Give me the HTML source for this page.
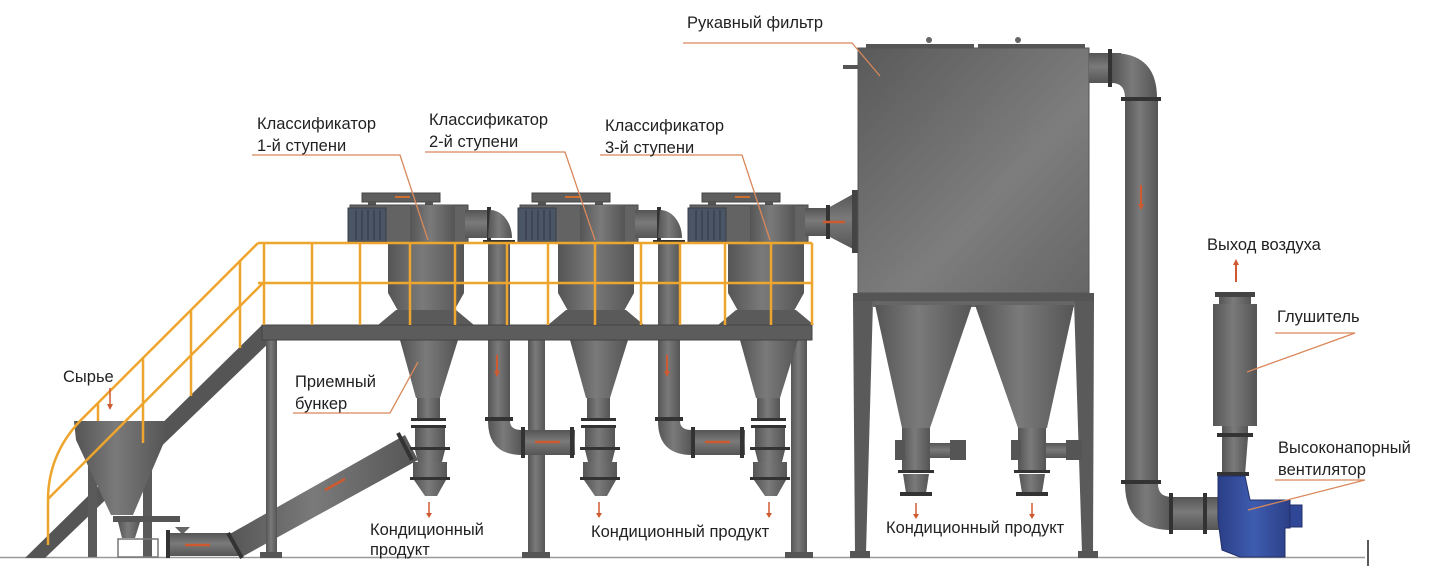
<!DOCTYPE html>
<html><head><meta charset="utf-8"><style>
html,body{margin:0;padding:0;background:#fff;}
svg{display:block;}
text{font-family:"Liberation Sans",sans-serif;font-size:16.5px;fill:#222;}
</style></head><body>
<svg width="1439" height="570" viewBox="0 0 1439 570" xmlns="http://www.w3.org/2000/svg">
<defs>
<linearGradient id="g" x1="0" x2="1" y1="0" y2="0">
<stop offset="0" stop-color="#555"/><stop offset="0.45" stop-color="#7a7a7a"/><stop offset="1" stop-color="#555"/></linearGradient>
<linearGradient id="gv" x1="0" x2="0" y1="0" y2="1">
<stop offset="0" stop-color="#555"/><stop offset="0.45" stop-color="#7a7a7a"/><stop offset="1" stop-color="#555"/></linearGradient>
<linearGradient id="box" x1="0" x2="1" y1="0" y2="1">
<stop offset="0" stop-color="#5a5a5a"/><stop offset="0.6" stop-color="#7d7d7d"/><stop offset="1" stop-color="#666"/></linearGradient>
<linearGradient id="blue" x1="0" x2="1"><stop offset="0" stop-color="#2b3f86"/><stop offset="0.5" stop-color="#3e5cb0"/><stop offset="1" stop-color="#2b3f86"/></linearGradient>
<g id="cyc">
 <rect x="362" y="193" width="78" height="9" fill="#5e5e5e" stroke="#444"/>
 <line x1="395" y1="197" x2="410" y2="197" stroke="#d07030" stroke-width="2"/>
 <rect x="368" y="202" width="8" height="5" fill="#555"/><rect x="425" y="202" width="8" height="5" fill="#555"/>
 <rect x="350" y="205" width="118" height="38" fill="#636363" stroke="#484848"/>
 <rect x="410" y="205" width="45" height="40" fill="url(#g)"/>
 <rect x="348" y="208" width="38" height="34" fill="#4a5566" stroke="#3a3f48"/>
 <g stroke="#3a4250" stroke-width="1.5"><line x1="356" y1="210" x2="356" y2="240"/><line x1="362" y1="210" x2="362" y2="240"/><line x1="368" y1="210" x2="368" y2="240"/><line x1="374" y1="210" x2="374" y2="240"/><line x1="380" y1="210" x2="380" y2="240"/></g>
 <rect x="388" y="243" width="76" height="50" fill="url(#g)"/>
 <polygon points="388,293 464,293 450,318 402,318" fill="url(#g)"/>
 <polygon points="378,325 474,325 456,310 396,310" fill="#5a5a5a"/>
 <polygon points="400,340 458,340 440,398 416,398" fill="url(#g)"/>
 <rect x="417" y="398" width="23" height="22" fill="url(#g)"/>
 <rect x="411" y="418" width="35" height="3" fill="#333"/><rect x="411" y="425" width="35" height="3" fill="#333"/>
 <rect x="415" y="428" width="30" height="20" fill="url(#g)"/>
 <rect x="410" y="447" width="40" height="3" fill="#333"/>
 <polygon points="415,450 445,450 442,462 418,462" fill="url(#g)"/>
 <rect x="413" y="462" width="34" height="16" fill="url(#g)"/>
 <rect x="410" y="477" width="40" height="3" fill="#333"/>
 <polygon points="414,480 446,480 437,496 425,496" fill="url(#g)"/>
 <line x1="429" y1="502" x2="429" y2="514" stroke="#d05a30" stroke-width="1.5"/>
 <polygon points="426,513 432,513 429,518" fill="#d05a30"/>
</g>
<g id="xfer">
 <rect x="465" y="210" width="25" height="28" fill="url(#gv)"/>
 <rect x="487" y="207" width="4" height="34" fill="#333"/>
 <path d="M490,210 A22,28 0 0 1 512,238 L488,238 Z" fill="url(#g)"/>
 <rect x="483" y="240" width="32" height="4" fill="#333"/>
 <rect x="488" y="244" width="22" height="174" fill="url(#g)"/>
 <line x1="497" y1="355" x2="497" y2="372" stroke="#d05a30" stroke-width="2"/>
 <polygon points="494,371 500,371 497,377" fill="#d05a30"/>
 <rect x="485" y="417" width="28" height="4" fill="#333"/>
 <path d="M488,421 L510,421 Q510,430 522,430 L522,455 Q488,455 488,421 Z" fill="url(#g)"/>
 <rect x="522" y="430" width="53" height="25" fill="url(#gv)"/>
 <rect x="521" y="427" width="4" height="31" fill="#333"/><rect x="570" y="427" width="4" height="31" fill="#333"/>
 <line x1="535" y1="442" x2="560" y2="442" stroke="#d05a30" stroke-width="2.5"/>
</g>
</defs>

<line x1="0" y1="557.5" x2="1365" y2="557.5" stroke="#999" stroke-width="1.5"/>
<line x1="1368" y1="540" x2="1368" y2="566" stroke="#222" stroke-width="1.5"/>

<polygon points="262,325 272,340 45,558 25,558" fill="#555"/>

<rect x="88" y="465" width="9" height="92" fill="#5a5a5a"/><rect x="143" y="465" width="9" height="92" fill="#5a5a5a"/>
<polygon points="74,421 167,421 165,440 76,440" fill="url(#g)"/>
<polygon points="76,440 165,440 133,515 111,515" fill="url(#g)"/>
<rect x="113" y="516" width="67" height="6" fill="#555"/>
<polygon points="118,522 140,522 135,538 122,538" fill="url(#g)"/>
<rect x="118" y="539" width="40" height="18" fill="none" stroke="#777" stroke-width="1.5"/>
<polygon points="168,533 240,533 240,556 168,556" fill="url(#gv)"/>
<rect x="166" y="530" width="4" height="28" fill="#333"/>
<polygon points="175,527 190,527 184,533 181,533" fill="#666"/>
<line x1="185" y1="545" x2="210" y2="545" stroke="#d05a30" stroke-width="2.5"/>
<polygon points="228,535 405,435 418,460 240,558" fill="url(#g)"/>
<line x1="228" y1="533" x2="242" y2="558" stroke="#333" stroke-width="4"/>
<line x1="398" y1="433" x2="412" y2="460" stroke="#333" stroke-width="4"/>
<line x1="325" y1="490" x2="345" y2="479" stroke="#d05a30" stroke-width="2.5"/>

<rect x="266" y="340" width="11" height="218" fill="url(#g)"/>
<rect x="528" y="340" width="17" height="218" fill="url(#g)"/>
<rect x="791" y="340" width="16" height="218" fill="url(#g)"/>
<rect x="260" y="552" width="22" height="6" fill="#555"/><rect x="522" y="552" width="28" height="6" fill="#555"/><rect x="785" y="552" width="28" height="6" fill="#555"/>

<use href="#cyc"/>
<use href="#cyc" x="170"/>
<use href="#cyc" x="340"/>
<use href="#xfer"/>
<use href="#xfer" x="170"/>
<rect x="805" y="208" width="25" height="28" fill="url(#gv)"/>
<polygon points="828,208 855,193 855,250 828,236" fill="url(#gv)"/>
<rect x="826" y="205" width="4" height="34" fill="#333"/>
<rect x="852" y="190" width="6" height="63" fill="#444"/>
<line x1="823" y1="222" x2="845" y2="222" stroke="#d05a30" stroke-width="2.5"/>

<rect x="262" y="325" width="550" height="15" fill="#5c5c5c" stroke="#444"/>

<g stroke="#eea52e" stroke-width="2.5" fill="none">
 <line x1="258" y1="243" x2="812" y2="243"/>
 <line x1="258" y1="283" x2="812" y2="283"/>
 <path d="M258,243 L80,421 Q48,455 48,500 L48,545"/>
 <path d="M263,283 L48,499"/>
 <line x1="264" y1="243" x2="264" y2="325"/>
 <line x1="312" y1="243" x2="312" y2="325"/>
 <line x1="360" y1="243" x2="360" y2="325"/>
 <line x1="410" y1="243" x2="410" y2="325"/>
 <line x1="455" y1="243" x2="455" y2="325"/>
 <line x1="507" y1="243" x2="507" y2="325"/>
 <line x1="548" y1="243" x2="548" y2="325"/>
 <line x1="595" y1="243" x2="595" y2="325"/>
 <line x1="641" y1="243" x2="641" y2="325"/>
 <line x1="680" y1="243" x2="680" y2="325"/>
 <line x1="725" y1="243" x2="725" y2="325"/>
 <line x1="771" y1="243" x2="771" y2="325"/>
 <line x1="812" y1="243" x2="812" y2="325"/>
 <line x1="240" y1="260" x2="240" y2="348"/>
 <line x1="191" y1="310" x2="191" y2="396"/>
 <line x1="143" y1="357" x2="143" y2="443"/>
 <line x1="98" y1="403" x2="98" y2="421"/>
</g>

<rect x="866" y="44" width="108" height="5" fill="#555"/><rect x="978" y="44" width="107" height="5" fill="#555"/>
<circle cx="929" cy="40" r="3" fill="#666"/><circle cx="1018" cy="40" r="3" fill="#666"/>
<rect x="843" y="65" width="16" height="4" fill="#555"/>
<rect x="858" y="48" width="231" height="245" fill="url(#box)" stroke="#555"/>
<rect x="853" y="293" width="241" height="8" fill="#555"/>
<polygon points="853,301 873,301 866,553 855,553" fill="#5a5a5a"/>
<polygon points="1074,301 1094,301 1093,553 1082,553" fill="#5a5a5a"/>
<rect x="850" y="551" width="20" height="7" fill="#555"/><rect x="1078" y="551" width="20" height="7" fill="#555"/>
<rect x="873" y="301" width="201" height="6" fill="#666"/>
<polygon points="875,305 972,305 930,428 902,428" fill="url(#g)"/>
<polygon points="975,305 1074,305 1047,428 1018,428" fill="url(#g)"/>
<g id="valve">
 <rect x="902" y="428" width="28" height="45" fill="url(#g)"/>
 <rect x="895" y="440" width="10" height="20" fill="#555"/>
 <rect x="930" y="443" width="20" height="15" fill="url(#gv)"/>
 <rect x="950" y="440" width="16" height="20" fill="#555"/>
 <rect x="898" y="470" width="36" height="3" fill="#333"/>
 <polygon points="903,474 929,474 926,493 906,493" fill="url(#g)"/>
 <rect x="900" y="492" width="32" height="4" fill="#333"/>
 <line x1="916" y1="503" x2="916" y2="515" stroke="#d05a30" stroke-width="1.5"/>
 <polygon points="913,514 919,514 916,519" fill="#d05a30"/>
</g>
<use href="#valve" x="116"/>

<rect x="1089" y="53" width="32" height="30" fill="url(#gv)"/>
<rect x="1108" y="49" width="4" height="38" fill="#333"/>
<path d="M1112,53 Q1157,53 1157,98 L1125,98 Q1125,83 1112,83 Z" fill="url(#g)"/>
<rect x="1121" y="97" width="40" height="4" fill="#333"/>
<rect x="1125" y="101" width="33" height="380" fill="url(#g)"/>
<line x1="1141" y1="185" x2="1141" y2="205" stroke="#d05a30" stroke-width="2"/>
<polygon points="1138,204 1144,204 1141,210" fill="#d05a30"/>
<rect x="1121" y="480" width="40" height="4" fill="#333"/>
<path d="M1125,484 L1158,484 Q1158,497 1172,497 L1172,530 Q1125,530 1125,484 Z" fill="url(#g)"/>
<rect x="1172" y="497" width="48" height="33" fill="url(#gv)"/>
<rect x="1169" y="493" width="4" height="41" fill="#333"/><rect x="1203" y="493" width="4" height="41" fill="#333"/>

<line x1="1236" y1="262" x2="1236" y2="282" stroke="#d05a30" stroke-width="2"/>
<polygon points="1233,265 1239,265 1236,259" fill="#d05a30"/>
<rect x="1215" y="292" width="40" height="5" fill="#444"/>
<rect x="1219" y="297" width="32" height="8" fill="url(#g)"/>
<rect x="1213" y="304" width="44" height="122" fill="url(#g)"/>
<rect x="1222" y="426" width="26" height="8" fill="url(#g)"/>
<rect x="1217" y="433" width="36" height="4" fill="#333"/>
<polygon points="1222,437 1248,437 1245,475 1222,475" fill="url(#g)"/>
<rect x="1217" y="472" width="32" height="4" fill="#333"/>
<polygon points="1218,476 1245,476 1250,500 1290,500 1290,528 1285,528 1285,557 1240,557 1222,550 1218,520" fill="url(#blue)" stroke="#22306a"/>
<rect x="1290" y="505" width="12" height="22" fill="#2f4796" stroke="#22306a"/>

<g stroke="#d9885a" stroke-width="1.3" fill="none">
 <polyline points="683,43 852,43 880,76"/>
 <polyline points="252,155 400,155 428,240"/>
 <polyline points="425,152 565,152 595,240"/>
 <polyline points="600,155 742,155 770,240"/>
 <polyline points="293,413 390,413 418,362"/>
 <polyline points="1275,333 1355,333 1247,372"/>
 <polyline points="1275,480 1365,480 1248,510"/>
</g>
<line x1="110" y1="388" x2="110" y2="405" stroke="#d05a30" stroke-width="1.5"/>
<polygon points="107,404 113,404 110,410" fill="#d05a30"/>
<text x="687" y="28">Рукавный фильтр</text>
<text x="257" y="129">Классификатор</text><text x="257" y="151">1-й ступени</text>
<text x="429" y="125">Классификатор</text><text x="429" y="147">2-й ступени</text>
<text x="605" y="131">Классификатор</text><text x="605" y="153">3-й ступени</text>
<text x="1207" y="250">Выход воздуха</text>
<text x="1277" y="322">Глушитель</text>
<text x="1278" y="453">Высоконапорный</text><text x="1278" y="475">вентилятор</text>
<text x="63" y="382">Сырье</text>
<text x="295" y="387">Приемный</text><text x="295" y="409">бункер</text>
<text x="370" y="535">Кондиционный</text><text x="370" y="555">продукт</text>
<text x="591" y="537">Кондиционный продукт</text>
<text x="886" y="533">Кондиционный продукт</text>
</svg>
</body></html>
